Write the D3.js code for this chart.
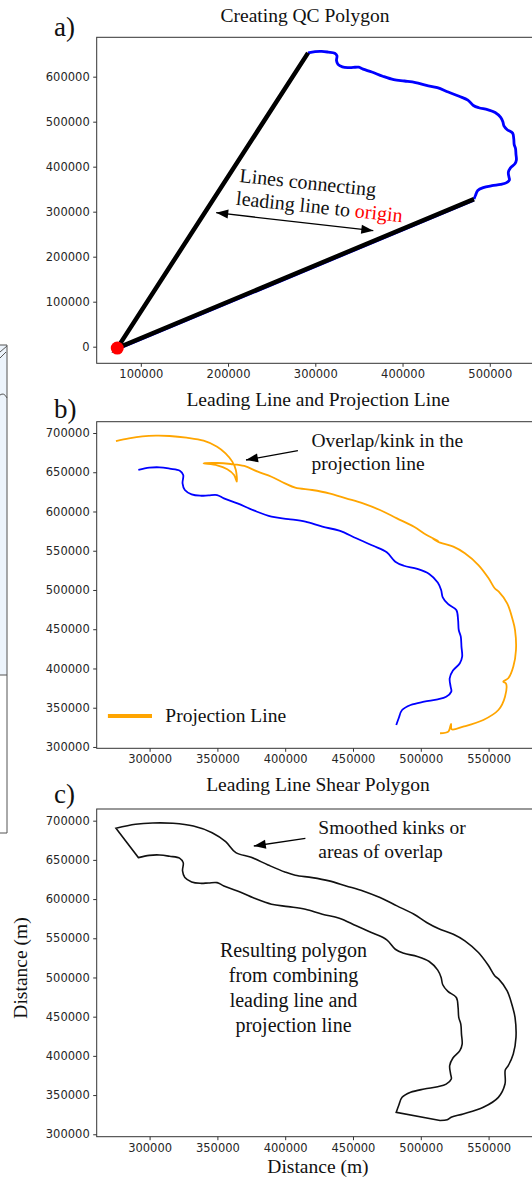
<!DOCTYPE html>
<html>
<head>
<meta charset="utf-8">
<script src="https://cdn.jsdelivr.net/npm/d3@7"></script>
<style>
  body { margin: 0; background: #fff; }
  svg { display: block; }
  .tick text { font-family: "DejaVu Sans", sans-serif; font-size: 11.5px; fill: #262626; }
  .tick line { stroke: #333; stroke-width: 1; }
  .serif { font-family: "Liberation Serif", "Times New Roman", serif; fill: #111; white-space: pre; }
</style>
</head>
<body>
<svg id="fig" width="532" height="1179"></svg>
<script>
// ---- data (metres) ----
var origin = [73000, -3000];

var leadingLine = [
  [291700,652900],[299800,655800],[307300,656300],[314800,654600],[322300,652000],
  [324800,646500],[324300,635900],[326000,627400],[331000,621900],[337300,620100],
  [343500,620600],[349800,621000],[354800,616800],[364800,610400],[377300,601000],
  [389900,593400],[402300,590400],[414900,587000],[427400,580600],[439900,575600],
  [452400,565900],[464900,556400],[474900,548000],[481200,536000],[487500,530900],
  [497400,526800],[506200,520400],[512500,509400],[515000,500000],[516200,490700],
  [520000,482200],[526200,474500],[527500,461800],[528000,449000],[529500,440500],
  [530000,427800],[530500,415000],[528800,406600],[523700,397300],[521300,387500],
  [522000,376800],[522500,370500],[518700,364000],[512500,360700],[502500,357700],
  [492500,353500],[486200,347100],[483700,336600],[481900,328000]
];

var projectionLine = [
  [275200,689800],[284800,693200],[294700,695700],[304700,696600],[314800,696200],
  [327200,694000],[339800,690200],[349800,682600],[356000,674100],[361000,663500],
  [363600,652900],[364300,638000],[362300,646500],[357300,653800],[349800,658900],
  [339800,661400],[349800,661800],[359800,660500],[369800,658000],[379800,650700],
  [389900,644300],[399800,635900],[407400,630300],[419900,627400],[432400,623200],
  [444900,616800],[457400,610400],[469900,601900],[482400,591300],[495000,580600],
  [504300,570100],[512900,562400],[508800,565400],[514200,560300],[524000,555200],
  [532500,546800],[542500,531800],[550000,514900],[554500,502200],[557500,497900],
  [563700,483000],[567800,461800],[569500,449000],[570200,423600],[568200,402300],
  [564500,387500],[560800,383200],[562800,381100],[562100,364100],[557200,347100],
  [546100,334400],[531300,325900],[522800,322500],[522300,329300],[520300,319500],
  [514200,317500]
];

var projectionSmooth = [
  [275200,690300],[289600,695400],[302300,697100],[317300,696700],[332300,693200],
  [346100,684700],[356100,673200],[363600,659200],[374900,653300],[387400,643500],
  [399800,634500],[407400,630300],[419900,627400],[432400,623200],[444900,616800],
  [457400,610400],[469900,601900],[482400,591300],[495000,580600],[504300,570100],
  [512900,562400],[524000,555200],[532500,546800],[542500,531800],[550000,514900],
  [554500,502200],[557500,497900],[563700,483000],[567800,461800],[569500,449000],
  [570200,423600],[568200,402300],[564500,387500],[562300,382000],[562100,364100],
  [557200,347100],[546100,334400],[531300,325900],[522800,322000],[519500,318600],
  [514200,317500]
];

var ticksA_x = [100000, 200000, 300000, 400000, 500000];
var ticksA_y = [0, 100000, 200000, 300000, 400000, 500000, 600000];
var ticksBC_x = [300000, 350000, 400000, 450000, 500000, 550000];
var ticksBC_y = [300000, 350000, 400000, 450000, 500000, 550000, 600000, 650000, 700000];

// ---- layout ----
var svg = d3.select('#fig');
svg.append('rect').attr('width', 532).attr('height', 1179).attr('fill', '#fff');

// fragment of the neighbouring figure at the left edge
var frag = svg.append('g').attr('stroke', '#555').attr('fill', 'none').attr('stroke-width', 1);
frag.append('rect').attr('x', -2).attr('y', 345).attr('width', 9).attr('height', 330)
  .attr('fill', '#edf4fc').attr('stroke', 'none');
frag.append('path').attr('d', 'M7,345V833M0,345H7M0,675H7M0,833H7');
frag.append('path').attr('d', 'M0,352L7,346M0,358L6,352');
frag.append('path').attr('d', 'M0,395Q4,392 7,398');

function makePanel(p) {
  var x = d3.scaleLinear().domain(p.xlim).range([p.left, p.right]);
  var y = d3.scaleLinear().domain(p.ylim).range([p.bottom, p.top]);
  var g = svg.append('g');

  g.append('clipPath').attr('id', 'clip-' + p.id)
    .append('rect').attr('x', p.left).attr('y', p.top)
    .attr('width', p.right - p.left).attr('height', p.bottom - p.top);

  g.append('g').attr('transform', 'translate(0,' + p.bottom + ')')
    .call(d3.axisBottom(x).tickValues(p.xticks).tickSize(3.5).tickPadding(3.5).tickFormat(d3.format('d')))
    .call(function (a) { a.select('.domain').remove(); });
  g.append('g').attr('transform', 'translate(' + p.left + ',0)')
    .call(d3.axisLeft(y).tickValues(p.yticks).tickSize(3.5).tickPadding(3.5).tickFormat(d3.format('d')))
    .call(function (a) { a.select('.domain').remove(); });

  var plot = g.append('g').attr('clip-path', 'url(#clip-' + p.id + ')');

  g.append('rect').attr('x', p.left).attr('y', p.top)
    .attr('width', p.right - p.left).attr('height', p.bottom - p.top)
    .attr('fill', 'none').attr('stroke', '#333').attr('stroke-width', 1);

  g.append('text').attr('class', 'serif').attr('x', p.titleX).attr('y', p.titleY)
    .attr('text-anchor', 'middle').attr('font-size', 19.5).text(p.title);
  g.append('text').attr('class', 'serif').attr('x', 54).attr('y', p.letterY)
    .attr('font-size', 27).text(p.letter);

  var line = d3.line().x(function (d) { return x(d[0]); }).y(function (d) { return y(d[1]); })
    .curve(d3.curveCatmullRom.alpha(0.5));
  return { x: x, y: y, plot: plot, g: g, line: line };
}

function arrowHead(g, x1, y1, x2, y2) {
  var len = 12, hw = 4.5;
  var a = Math.atan2(y2 - y1, x2 - x1);
  var bx = x2 - len * Math.cos(a), by = y2 - len * Math.sin(a);
  var px = -Math.sin(a) * hw, py = Math.cos(a) * hw;
  g.append('path')
    .attr('d', 'M' + x2 + ',' + y2 + 'L' + (bx + px) + ',' + (by + py) + 'L' + (bx - px) + ',' + (by - py) + 'Z')
    .attr('fill', '#000');
}

function arrow(g, x1, y1, x2, y2, both) {
  g.append('line').attr('x1', x1).attr('y1', y1).attr('x2', x2).attr('y2', y2)
    .attr('stroke', '#000').attr('stroke-width', 1.3);
  arrowHead(g, x1, y1, x2, y2);
  if (both) arrowHead(g, x2, y2, x1, y1);
}

// ---- a) ----
var A = makePanel({
  id: 'a', left: 96.7, right: 545, top: 37.3, bottom: 363.3,
  xlim: [49430, 563300], ylim: [-36900, 687500],
  xticks: ticksA_x, yticks: ticksA_y,
  title: 'Creating QC Polygon', titleX: 305, titleY: 21.5, letter: 'a)', letterY: 35.5
});
var first = leadingLine[0], last = leadingLine[leadingLine.length - 1];
var straight = d3.line().x(function (d) { return A.x(d[0]); }).y(function (d) { return A.y(d[1]); });
A.plot.append('path').attr('d', straight([last, origin])).attr('transform', 'translate(0,1.6)')
  .attr('fill', 'none').attr('stroke', '#0000ff').attr('stroke-width', 2);
A.plot.append('path').attr('d', A.line(leadingLine))
  .attr('fill', 'none').attr('stroke', '#0000ff').attr('stroke-width', 2.8).attr('stroke-linejoin', 'round');
A.plot.append('path').attr('d', straight([first, origin, last]))
  .attr('fill', 'none').attr('stroke', '#000').attr('stroke-width', 4.5).attr('stroke-linejoin', 'miter');
A.plot.append('circle').attr('cx', A.x(origin[0])).attr('cy', A.y(origin[1])).attr('r', 6.5).attr('fill', '#ff0000');

var noteA = A.g.append('g').attr('transform', 'translate(239,182) rotate(6)');
noteA.append('text').attr('class', 'serif').attr('font-size', 20).text('Lines connecting');
var t2 = noteA.append('text').attr('class', 'serif').attr('font-size', 20).attr('y', 23).attr('x', -1);
t2.append('tspan').text('leading line to ');
t2.append('tspan').style('fill', '#ff0000').text('origin');
arrow(A.g, 216.2, 212.7, 373.3, 230.7, true);

// ---- b) ----
var B = makePanel({
  id: 'b', left: 96.7, right: 545, top: 421.7, bottom: 748.3,
  xlim: [260990, 591600], ylim: [298300, 714400],
  xticks: ticksBC_x, yticks: ticksBC_y,
  title: 'Leading Line and Projection Line', titleX: 318, titleY: 406, letter: 'b)', letterY: 418
});
B.plot.append('path').attr('d', B.line(leadingLine))
  .attr('fill', 'none').attr('stroke', '#0000ff').attr('stroke-width', 1.8);
B.plot.append('path').attr('d', B.line(projectionLine))
  .attr('fill', 'none').attr('stroke', '#ffa500').attr('stroke-width', 1.8).attr('stroke-linejoin', 'round');

B.g.append('text').attr('class', 'serif').attr('font-size', 19.5).attr('x', 311.5).attr('y', 446.5).text('Overlap/kink in the');
B.g.append('text').attr('class', 'serif').attr('font-size', 19.5).attr('x', 311.5).attr('y', 470).text('projection line');
arrow(B.g, 297.9, 450.7, 246, 460, false);

B.g.append('line').attr('x1', 107.9).attr('x2', 152).attr('y1', 716).attr('y2', 716)
  .attr('stroke', '#ffa500').attr('stroke-width', 4);
B.g.append('text').attr('class', 'serif').attr('font-size', 19.5).attr('x', 165.3).attr('y', 721.5).text('Projection Line');

// ---- c) ----
var C = makePanel({
  id: 'c', left: 96.7, right: 545, top: 809, bottom: 1136.7,
  xlim: [260990, 591600], ylim: [296900, 714900],
  xticks: ticksBC_x, yticks: ticksBC_y,
  title: 'Leading Line Shear Polygon', titleX: 318, titleY: 791, letter: 'c)', letterY: 803
});
// outer edge (smoothed projection) + straight joins + leading line back
var outerD = C.line(projectionSmooth);
var innerD = C.line(leadingLine.slice().reverse());
C.plot.append('path').attr('d', outerD + 'L' + innerD.slice(1) + 'Z')
  .attr('fill', 'none').attr('stroke', '#111').attr('stroke-width', 1.6).attr('stroke-linejoin', 'miter');

C.g.append('text').attr('class', 'serif').attr('font-size', 19.5).attr('x', 318.3).attr('y', 834).text('Smoothed kinks or');
C.g.append('text').attr('class', 'serif').attr('font-size', 19.5).attr('x', 318.3).attr('y', 857.5).text('areas of overlap');
arrow(C.g, 305.4, 838.3, 253.8, 846, false);

var resLines = ['Resulting polygon', 'from combining', 'leading line and', 'projection line'];
C.g.selectAll('text.res').data(resLines).enter().append('text')
  .attr('class', 'serif res').attr('font-size', 20).attr('text-anchor', 'middle')
  .attr('x', 293.5).attr('y', function (d, i) { return 956.7 + i * 25; }).text(function (d) { return d; });

C.g.append('text').attr('class', 'serif').attr('font-size', 19.5).attr('text-anchor', 'middle')
  .attr('transform', 'translate(27,968) rotate(-90)').text('Distance (m)');
C.g.append('text').attr('class', 'serif').attr('font-size', 19.5).attr('text-anchor', 'middle')
  .attr('x', 318).attr('y', 1173).text('Distance (m)');
</script>
</body>
</html>
